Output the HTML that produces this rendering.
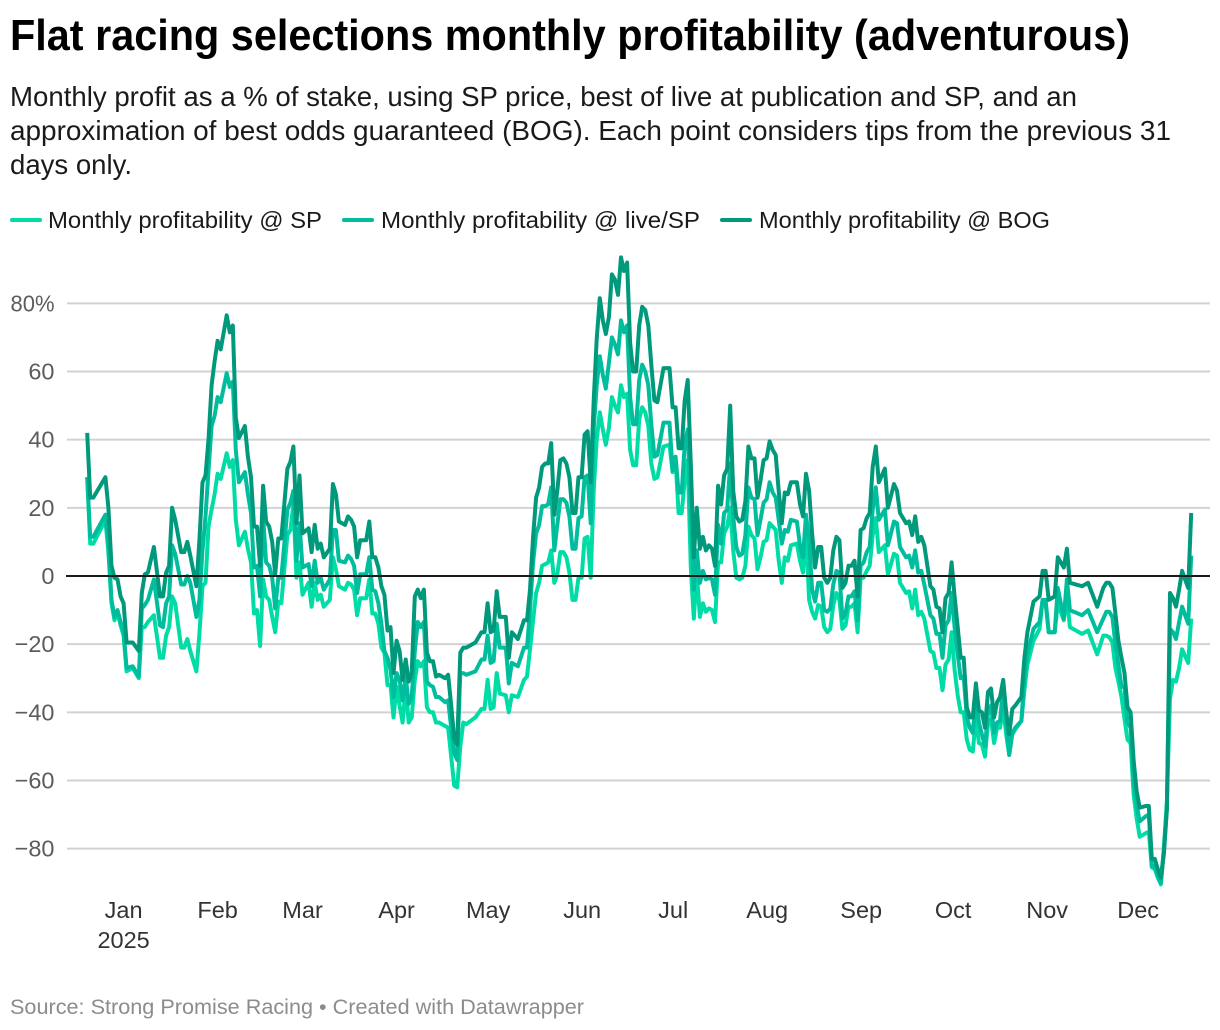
<!DOCTYPE html>
<html lang="en">
<head>
<meta charset="utf-8">
<title>Flat racing selections monthly profitability (adventurous)</title>
<style>
  html, body { margin: 0; padding: 0; background: #ffffff; }
  svg { display: block; }
  text { font-family: "Liberation Sans", sans-serif; }
</style>
</head>
<body>
<svg id="chart" width="1220" height="1030" viewBox="0 0 1220 1030" xmlns="http://www.w3.org/2000/svg">
  <rect x="0" y="0" width="1220" height="1030" fill="#ffffff"/>
  <text x="10" y="50" font-size="43.5" font-weight="700" fill="#000000" textLength="1120" lengthAdjust="spacingAndGlyphs">Flat racing selections monthly profitability (adventurous)</text>
  <g font-size="27.5" fill="#1a1a1a">
    <text x="10" y="106" textLength="1067" lengthAdjust="spacingAndGlyphs">Monthly profit as a % of stake, using SP price, best of live at publication and SP, and an</text>
    <text x="10" y="140" textLength="1161" lengthAdjust="spacingAndGlyphs">approximation of best odds guaranteed (BOG). Each point considers tips from the previous 31</text>
    <text x="10" y="174" textLength="122" lengthAdjust="spacingAndGlyphs">days only.</text>
  </g>
  <g font-size="23.5" fill="#1a1a1a">
    <g>
      <line x1="12" y1="220" x2="40" y2="220" stroke="#00dca5" stroke-width="4" stroke-linecap="round"/>
      <text x="48" y="228" textLength="274" lengthAdjust="spacingAndGlyphs">Monthly profitability @ SP</text>
    </g>
    <g>
      <line x1="344" y1="220" x2="372" y2="220" stroke="#00bd9d" stroke-width="4" stroke-linecap="round"/>
      <text x="381" y="228" textLength="319" lengthAdjust="spacingAndGlyphs">Monthly profitability @ live/SP</text>
    </g>
    <g>
      <line x1="722" y1="220" x2="750" y2="220" stroke="#00997c" stroke-width="4" stroke-linecap="round"/>
      <text x="759" y="228" textLength="291" lengthAdjust="spacingAndGlyphs">Monthly profitability @ BOG</text>
    </g>
  </g>
  <g id="grid"></g>
  <g id="yticks"></g>
  <g id="xticks"></g>
  <g id="series"></g>
  <line id="zero" x1="66" x2="1210" stroke="#1a1a1a" stroke-width="2"/>
  <text x="10" y="1014" font-size="21.5" fill="#8c8c8c" textLength="574" lengthAdjust="spacingAndGlyphs">Source: Strong Promise Racing • Created with Datawrapper</text>
</svg>
<script>
const days = [
  0,1,2,6,7,8,9,10,11,12,
  13,15,17,18,19,20,22,24,25,26,
  27,28,29,31,32,33,34,36,37,38,
  39,40,41,42,43,44,46,47,48,49,
  50,52,53,54,55,56,57,58,59,60,
  61,62,63,64,66,67,68,69,70,71,
  73,74,75,76,77,78,80,81,82,83,
  85,86,87,88,89,90,92,93,94,95,
  96,97,98,99,100,101,102,103,104,105,
  106,107,108,109,110,111,112,113,114,115,
  116,118,119,120,121,122,123,124,125,128,
  130,131,132,133,134,135,136,138,139,140,
  142,144,145,146,147,148,149,150,151,152,
  153,154,155,156,157,158,159,160,161,162,
  163,164,165,166,167,168,169,170,171,172,
  173,174,175,176,177,178,179,180,181,182,
  183,184,185,186,187,188,190,192,193,194,
  195,196,197,198,199,200,201,202,203,204,
  205,206,207,208,209,210,211,212,213,214,
  215,216,217,218,219,220,221,222,223,224,
  225,226,227,228,229,230,231,232,234,235,
  236,237,238,239,240,241,242,243,244,245,
  246,247,248,249,250,251,252,253,254,255,
  256,257,258,259,260,261,263,264,266,267,
  268,270,271,272,273,274,275,276,278,279,
  280,281,282,283,284,285,286,287,288,289,
  290,291,292,293,294,295,296,297,298,299,
  300,301,302,303,304,305,306,308,309,310,
  312,314,315,316,317,319,320,322,323,324,
  328,330,333,335,336,337,338,339,340,341,
  342,343,344,345,346,347,349,350,351,352,
  353,354,355,356,357,358,359,360,361,362,
  363,364
];
const spValues = [
  29,9.5,9.5,16.5,7,-8,-13,-10.5,-14.5,-17.5,
  -28,-27,-30,-15,-15,-13.5,-11.5,-24,-24,-17.5,
  -15,-6,-8,-21,-21,-18.5,-22,-28,-17,-3,
  -2,14.5,19.5,24,30,28.5,36,32,34,16.5,
  9,13,8,4,-11,-10,-20.5,-1,-6,-7,
  -12,-16.5,-7.5,-8,12,13.5,21,-0.5,4,-5.5,
  -2,-9,-2,-7,-5.5,-9,-7,5.5,2,-3,
  -4,-2,-2.5,-4,-11.5,-6.5,-6.5,-1,-11,-11,
  -14,-21,-22.5,-32,-32,-41.5,-32.5,-38,-43,-32.5,
  -43,-41.5,-30.5,-25,-26.5,-25,-38.5,-40,-40,-43,
  -43,-44,-44.5,-53,-61.5,-62,-50,-43,-43.5,-41.5,
  -39,-39,-30.5,-39,-38.5,-28.5,-34.5,-35,-40,-35,
  -35.5,-30.5,-29.5,-21.5,-13,-5,-2,3,3.5,4,
  7.5,-2,0.5,7,7,5.5,1,-7,-7,-0.5,
  -0.5,11,11.5,-0.5,25,40,48,43,38.5,43.5,
  52.5,50,48,56,52.5,53.5,37,32.5,32.5,46,
  49.5,48,44,33,28.5,29,38,38.5,30.5,33.5,
  18.5,18.5,28,34,2.5,-12.5,1,-12,-8,-10.5,
  -9.5,-10,-13.5,4,4,12.5,14.5,20,7.5,-0.5,
  -1,-0.5,3,14.5,12,11,2,5.5,10,10.5,
  15.5,14.5,13.5,4.5,-2,5.5,4.5,9,9.5,4.5,
  1,13.5,-7,-10.5,-12.5,-8.5,-9,-15,-16.5,-15.5,
  -8.5,-5,-7,-15.5,-14.5,-9,-9,-8,-16.5,-0.5,
  -0.5,1.5,3,12,17,7,9,0.5,6.5,6,
  -2,-5,-4.5,-9.5,-4,-11.5,-10.5,-12.5,-22,-22.5,
  -27,-27,-33.5,-26,-24.5,-16.5,-27.5,-35,-40,-40,
  -48,-51,-51.5,-41.5,-49,-49.5,-53,-43,-42,-49,
  -44.5,-44.5,-38.5,-46.5,-52.5,-46.5,-45,-42.5,-33.5,-26,
  -19,-15.5,-7,-8,-16.5,-16.5,-8,-13,-6,-15,
  -17,-16,-23,-17.5,-17.5,-18,-19.5,-27,-31,-35.5,
  -42,-48,-49,-64,-71,-76.5,-75.5,-75,-85.5,-86,
  -88.5,-90.5,-79.5,-66,-36,-30.5,-31,-27,-21.5,-23.5,
  -25.5,-12.5
];
const liveValues = [
  29,11.5,11.5,18,9,-7,-12,-10,-13.5,-16.5,
  -27,-26.5,-29.5,-9.5,-8.5,-7,-1,-14.5,-15,-8,
  -6,9,6.5,-2.5,-2.5,0,-2,-12,-7,7.5,
  17.5,31,44,47,52.5,51,59.5,55.5,57,37,
  27.5,30.5,24,18.5,2.5,3,-6,17.5,4,3,
  -0.5,-9.5,-0.5,-0.5,19.5,21.5,25,4.5,15.5,2.5,
  3.5,-3,4.5,-2,-0.5,-4,-1,13.5,13.5,4.5,
  4,6,5,3,-5,0.5,0.5,5.5,-4,-4.5,
  -8,-14,-22,-24,-27.5,-35.5,-28.5,-30.5,-36.5,-29.5,
  -37.5,-35.5,-22,-13.5,-15,-13.5,-31,-32,-32.5,-35.5,
  -35.5,-37,-36.5,-44.5,-52,-54,-28.5,-28.5,-29,-28,
  -24.5,-24.5,-17.5,-25.5,-25,-14,-21,-21,-31.5,-25.5,
  -26.5,-21,-21,-10,4,12.5,15,20.5,20.5,21,
  26,7.5,15,22.5,22.5,21.5,17.5,8,8,17,
  17.5,29,29.5,15.5,43,56,64.5,59,55,62.5,
  70,68,65,75,71.5,73.5,52.5,44.5,44.5,57.5,
  62,60,56,44.5,35,35.5,45,45,31,35,
  24.5,24.5,38.5,43,17.5,-4,7.5,-2,1.5,-1,
  -0.5,-1,-5.5,15,9.5,18.5,19.5,33,17.5,8.5,
  6,6.5,12,26,23,22.5,12,16.5,21.5,22.5,
  27.5,24.5,23,16.5,9.5,13.5,13,16.5,16,9,
  5.5,18,10.5,-4,-7.5,-2,-2,-10,-10.5,-9.5,
  -2.5,1.5,1,-12.5,-11,-6,-6,-4.5,-13,3,
  4,7,8.5,19.5,26,16.5,19.5,9,16,15.5,
  8.5,5.5,6,2.5,7.5,1,1.5,-2.5,-11.5,-12.5,
  -17,-17,-24,-14.5,-13,-5,-15,-23,-30,-29.5,
  -41.5,-44.5,-46,-35.5,-43,-46.5,-50,-40,-38,-46,
  -43,-42.5,-32,-43,-52.5,-46,-44.5,-42.5,-29.5,-23,
  -15.5,-13.5,-7,-7,-16.5,-16.5,-3.5,-12.5,-1,-10,
  -11.5,-10,-16.5,-12.5,-10.5,-10.5,-12,-20,-26,-32.5,
  -32.5,-43,-44.5,-60,-67,-72,-70.5,-70,-85,-85,
  -88,-90,-80.5,-68,-15.5,-16.5,-18.5,-13.5,-9,-11.5,
  -14,6
];
const bogValues = [
  42,23,23,29,20,3,-0.5,-1,-6,-8,
  -19.5,-19.5,-22,-5,0.5,1,8.5,-6,-6,1,
  3,20,16.5,7,7,10,6,-3,10.5,27.5,
  29.5,40,56,63,69,66.5,76.5,71.5,73.5,46.5,
  40.5,44,35,29,14.5,14.5,3,26.5,16,14.5,
  10,0.5,11,11,31.5,33.5,38,15.5,29.5,12.5,
  14,7,15,8,9.5,5.5,8,27,24,16,
  15,17.5,16.5,14.5,5.5,10.5,10.5,16,5.5,5.5,
  2.5,-3,-5.5,-16,-15,-28.5,-19,-22,-30.5,-24.5,
  -31,-28.5,-6,-4,-6.5,-4,-22.5,-25,-25,-29.5,
  -29,-30,-29,-38,-47.5,-49.5,-22.5,-21,-21,-19.5,
  -16.5,-16.5,-8,-16.5,-16,-4.5,-12,-12,-24,-16.5,
  -18.5,-13,-13,-4,11.5,23,26,32,33,33,
  39,18,25,34,34.5,33,29,18.5,18.5,29,
  29,41.5,42.5,27.5,51.5,69.5,81.5,75,71,76,
  88.5,87,82.5,93.5,89.5,92,68.5,60,60,73.5,
  79,78,73.5,62,51.5,51,61,61,49.5,49.5,
  37.5,37.5,51.5,57.5,33,5.5,20,8,11.5,7.5,
  9,8,3,26.5,21,29.5,31.5,50,25,17.5,
  16,16.5,22,38,34.5,34.5,23,28,34,34.5,
  39.5,37,35.5,25,15.5,24.5,24,27.5,27.5,21,
  17.5,30,25,12.5,2.5,8.5,8.5,-0.5,-2,-0.5,
  7.5,11.5,10.5,-3.5,-2,3,3,4.5,-6,13.5,
  14,17,18.5,32,38,27.5,31.5,20,27,25,
  18.5,15.5,16,12,17.5,10,11.5,9,-3,-4,
  -9,-9.5,-16.5,-6.5,-5,4,-6,-15,-24,-24,
  -38.5,-41.5,-41.5,-31.5,-39.5,-40,-44.5,-34,-33,-41.5,
  -37,-35.5,-30.5,-40,-46.5,-39,-38,-35.5,-24,-16.5,
  -7.5,-6,1.5,1.5,-7,-6,5.5,2.5,8,-2,
  -3,-2,-9,-3.5,-2,-2,-3.5,-11,-19,-24,
  -28.5,-38.5,-40,-54,-63,-68,-67.5,-67.5,-83,-83,
  -86,-88.5,-81.5,-68.5,-5,-6.5,-9,-4,1.5,-1,
  -3.5,18.5
];
const yTickValues = [80, 60, 40, 20, 0, -20, -40, -60, -80];
const monthLabels = ['Jan','Feb','Mar','Apr','May','Jun','Jul','Aug','Sep','Oct','Nov','Dec'];
const monthDays = [12,43,71,102,132.2,163.2,193.2,224.2,255.2,285.5,316.5,346.5];

const NS = 'http://www.w3.org/2000/svg';
function xScale(day) { return 87.2 + 3.033 * day; }
function yScale(value) { return 576 - 3.408 * value; }

function mk(tag, attrs, parent) {
  const el = document.createElementNS(NS, tag);
  for (const k in attrs) el.setAttribute(k, attrs[k]);
  parent.appendChild(el);
  return el;
}

const gridG = document.getElementById('grid');
const yG = document.getElementById('yticks');
yTickValues.forEach(function (v) {
  const y = yScale(v);
  if (v !== 0) {
    const line = mk('line', { x1: 67, x2: 1210, y1: y, y2: y, stroke: '#d2d2d2', 'stroke-width': 2 }, gridG);
    
    
  }
  const isTop = v === yTickValues[0];
  const label = (v < 0 ? '\u2212' + Math.abs(v) : String(v)) + (isTop ? '%' : '');
  const attrs = { x: 54.5, y: y + 8, 'text-anchor': 'end', 'font-size': 23.5, fill: '#5c5c5c' };
  if (isTop) { attrs.textLength = 44; attrs.lengthAdjust = 'spacingAndGlyphs'; }
  const t = mk('text', attrs, yG);
  t.textContent = label;
  
  
});

const zero = document.getElementById('zero');
zero.setAttribute('y1', yScale(0));
zero.setAttribute('y2', yScale(0));

const xG = document.getElementById('xticks');
monthLabels.forEach(function (m, i) {
  const t = mk('text', { x: xScale(monthDays[i]), y: 918, 'text-anchor': 'middle', 'font-size': 23.5, fill: '#333333' }, xG);
  t.textContent = m;
  
  
});
const yearLabel = mk('text', { x: xScale(monthDays[0]), y: 948, 'text-anchor': 'middle', 'font-size': 23.5, fill: '#333333' }, xG);
yearLabel.textContent = '2025';



function pathFor(values) {
  return values.map(function (v, i) {
    return (i ? 'L' : 'M') + xScale(days[i]).toFixed(1) + ' ' + yScale(v).toFixed(1);
  }).join('');
}

const seriesG = document.getElementById('series');
const spLine = mk('path', { d: pathFor(spValues), fill: 'none', stroke: '#00dca5', 'stroke-width': 4, 'stroke-linejoin': 'round', 'stroke-linecap': 'butt' }, seriesG);


const liveLine = mk('path', { d: pathFor(liveValues), fill: 'none', stroke: '#00bd9d', 'stroke-width': 4, 'stroke-linejoin': 'round', 'stroke-linecap': 'butt' }, seriesG);


const bogLine = mk('path', { d: pathFor(bogValues), fill: 'none', stroke: '#00997c', 'stroke-width': 4, 'stroke-linejoin': 'round', 'stroke-linecap': 'butt' }, seriesG);


</script>
</body>
</html>
